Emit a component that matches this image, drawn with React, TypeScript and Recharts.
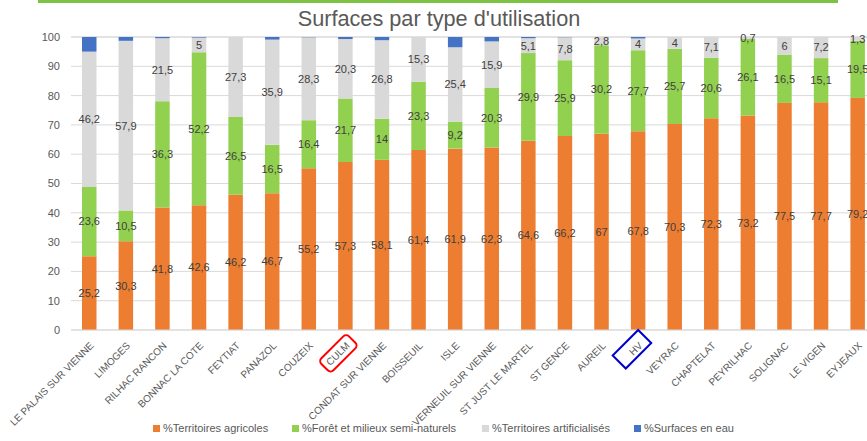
import React from 'react';
import { Bar, BarChart, CartesianGrid, LabelList, XAxis, YAxis } from 'recharts';

const COMMUNES = [
  'LE PALAIS SUR VIENNE',
  'LIMOGES',
  'RILHAC RANCON',
  'BONNAC LA COTE',
  'FEYTIAT',
  'PANAZOL',
  'COUZEIX',
  'CULM',
  'CONDAT SUR VIENNE',
  'BOISSEUIL',
  'ISLE',
  'VERNEUIL SUR VIENNE',
  'ST JUST LE MARTEL',
  'ST GENCE',
  'AUREIL',
  'HV',
  'VEYRAC',
  'CHAPTELAT',
  'PEYRILHAC',
  'SOLIGNAC',
  'LE VIGEN',
  'EYJEAUX',
];

const AGRICOLES = [25.2, 30.3, 41.8, 42.6, 46.2, 46.7, 55.2, 57.3, 58.1, 61.4, 61.9, 62.3, 64.6, 66.2, 67, 67.8, 70.3, 72.3, 73.2, 77.5, 77.7, 79.2];
const FORET = [23.6, 10.5, 36.3, 52.2, 26.5, 16.5, 16.4, 21.7, 14, 23.3, 9.2, 20.3, 29.9, 25.9, 30.2, 27.7, 25.7, 20.6, 26.1, 16.5, 15.1, 19.5];
const ARTIFICIALISES = [46.2, 57.9, 21.5, 5, 27.3, 35.9, 28.3, 20.3, 26.8, 15.3, 25.4, 15.9, 5.1, 7.8, 2.8, 4, 4, 7.1, 0.7, 6, 7.2, 1.3];
const EAU = [5, 1.3, 0.4, 0.2, 0, 0.9, 0.1, 0.7, 1.1, 0, 3.5, 1.5, 0.4, 0.1, 0, 0.5, 0, 0, 0, 0, 0, 0];

const Y_TICKS = [0, 10, 20, 30, 40, 50, 60, 70, 80, 90, 100];

const SERIES = [
  { key: 'agri', name: '%Territoires agricoles', color: '#ED7D31', labels: true },
  { key: 'foret', name: '%Forêt et milieux semi-naturels', color: '#92D050', labels: true },
  { key: 'artif', name: '%Territoires artificialisés', color: '#D9D9D9', labels: true },
  { key: 'eau', name: '%Surfaces en eau', color: '#4472C4', labels: false },
];

const data = COMMUNES.map((name, i) => ({
  name,
  agri: AGRICOLES[i],
  foret: FORET[i],
  artif: ARTIFICIALISES[i],
  eau: EAU[i],
}));

const fmt = (v: any) => String(v).replace('.', ',');

const TEXT = '#595959';

function CommuneTick({ x, y, payload }: any) {
  const name = payload.value;
  return (
    <g transform={`translate(${x},${y}) rotate(-45)`}>
      {name === 'CULM' && (
        <rect x={-41} y={3} width={39} height={17} rx={4} fill="none" stroke="#FF0000" strokeWidth={2} />
      )}
      {name === 'HV' && (
        <rect x={-36} y={0} width={36} height={18.5} fill="none" stroke="#0000CC" strokeWidth={2} />
      )}
      <text x={-8} y={15} textAnchor="end" fill={TEXT} fontSize={10}>
        {name}
      </text>
    </g>
  );
}

const LEGEND_X = [153, 292, 482, 634];

export default function App() {
  return (
    <div
      style={{
        position: 'absolute',
        left: 0,
        top: 0,
        width: 867,
        height: 441,
        overflow: 'hidden',
        background: '#fff',
        fontFamily: '"Liberation Sans", Arial, sans-serif',
      }}
    >
      <div style={{ position: 'absolute', left: 38, top: 0, width: 800, height: 3, background: '#7DC243' }} />
      <div
        style={{
          position: 'absolute',
          left: 0,
          top: 4,
          width: 878,
          textAlign: 'center',
          fontSize: 21.7,
          lineHeight: '30px',
          color: TEXT,
        }}
      >
        Surfaces par type d'utilisation
      </div>
      <BarChart
        width={890}
        height={441}
        data={data}
        margin={{ top: 37, right: 14, left: 0, bottom: 11 }}
        barSize={14.5}
      >
        <CartesianGrid stroke="#D9D9D9" vertical={false} />
        <XAxis
          dataKey="name"
          interval={0}
          height={100}
          tickSize={0}
          tickMargin={0}
          tickLine={false}
          axisLine={{ stroke: '#D9D9D9' }}
          tick={<CommuneTick />}
        />
        <YAxis
          width={71}
          domain={[0, 100]}
          ticks={Y_TICKS}
          interval={0}
          tickSize={0}
          tickMargin={11}
          axisLine={false}
          tickLine={false}
          tick={{ fill: TEXT, fontSize: 11 }}
        />
        {SERIES.map((s) => (
          <Bar key={s.key} dataKey={s.key} name={s.name} stackId="a" fill={s.color} isAnimationActive={false}>
            {s.labels && (
              <LabelList dataKey={s.key} position="center" fill="#404040" fontSize={11} formatter={fmt} />
            )}
          </Bar>
        ))}
      </BarChart>
      {SERIES.map((s, i) => (
        <div
          key={s.key}
          style={{
            position: 'absolute',
            left: LEGEND_X[i],
            top: 421,
            height: 14,
            display: 'flex',
            alignItems: 'center',
            fontSize: 11,
            color: TEXT,
            whiteSpace: 'nowrap',
          }}
        >
          <span style={{ display: 'inline-block', width: 7, height: 7, background: s.color, marginRight: 3 }} />
          {s.name}
        </div>
      ))}
    </div>
  );
}
